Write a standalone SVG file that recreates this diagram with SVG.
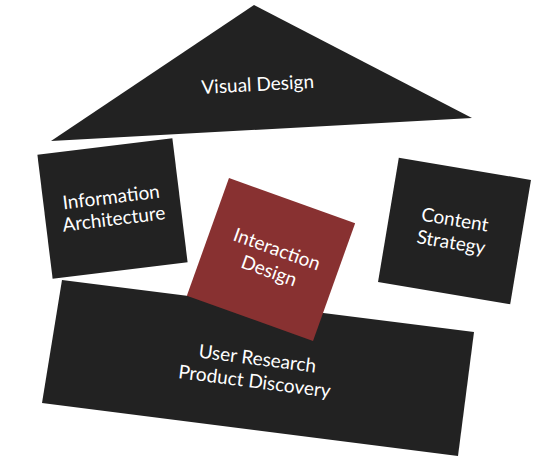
<svg xmlns="http://www.w3.org/2000/svg" width="540" height="462" viewBox="0 0 540 462">
<style>
.box{fill:#222222}
.red{fill:#883131}
.lbl{fill:#ffffff;font-family:"Lato","Open Sans","DejaVu Sans",sans-serif;font-size:19px;text-anchor:middle}
</style>
<rect width="540" height="462" fill="#ffffff"/>
<g id="visual-design">
<polygon class="box" points="254,5 472,118 51,141"/>
<text class="lbl" transform="translate(258,91) rotate(-3)" x="0" y="0">Visual Design</text>
</g>
<g id="information-architecture">
<rect class="box" x="-68" y="-62.5" width="136" height="125" transform="translate(112.5,208.5) rotate(-7)"/>
<text class="lbl" transform="translate(112.5,208.5) rotate(-7)"><tspan x="0" y="-5">Information</tspan><tspan x="0" y="17">Architecture</tspan></text>
</g>
<g id="content-strategy">
<rect class="box" x="-67" y="-63" width="134" height="126" transform="translate(454.5,231) rotate(9.5)"/>
<text class="lbl" transform="translate(453,231) rotate(9.5)"><tspan x="0" y="-5">Content</tspan><tspan x="0" y="18">Strategy</tspan></text>
</g>
<g id="user-research">
<polygon class="box" points="62,280 474,332 458,456 42,403"/>
<text class="lbl" transform="translate(256,370) rotate(7.3)"><tspan x="0" y="-5">User Research</tspan><tspan x="0" y="18">Product Discovery</tspan></text>
</g>
<g id="interaction-design">
<rect class="red" x="-67" y="-62.5" width="134" height="125" transform="translate(271,259.5) rotate(19.7)"/>
<text class="lbl" transform="translate(273,260) rotate(19.7)"><tspan x="0" y="-5">Interaction</tspan><tspan x="0" y="18">Design</tspan></text>
</g>
<g id="connectors"></g>
</svg>
